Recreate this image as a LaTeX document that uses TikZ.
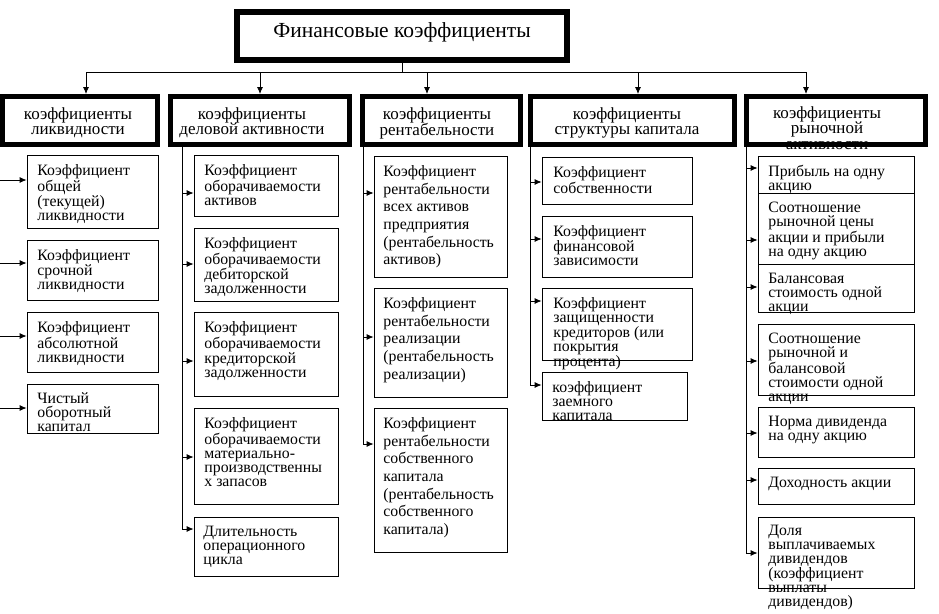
\documentclass[tikz,border=0pt]{standalone}
\usepackage{fontspec}
\setmainfont{Liberation Serif}
\usetikzlibrary{arrows.meta,fit}
\tikzset{
  cell/.style={draw,line width=.8pt,inner sep=0pt},
  head/.style={draw,line width=5pt,inner sep=0pt},
  txt/.style={anchor=north west,inner sep=0pt,align=left,font=\fontsize{15.8}{14}\selectfont},
  txtwide/.style={txt,font=\fontsize{15.8}{17.7}\selectfont},
  htxt/.style={anchor=north,inner sep=0pt,align=center,font=\fontsize{17}{15.5}\selectfont},
}
\begin{document}
\begin{tikzpicture}[x=1pt,y=-1pt,>={Latex[length=7pt,width=6pt]},line width=.8pt]
                \useasboundingbox (0,0) rectangle (939,613);
                \node[draw,line width=6pt,inner sep=0pt,fit={(237,12) (567,60)}] (fin) {};
                \node[inner sep=0pt,anchor=base,font=\fontsize{21.5}{24}\selectfont] (fint) at (402,37) {Финансовые коэффициенты};
                \draw (fin.south) -- (fin.south |- 0,72);
                \draw (86,72) -- (806,72);
                % groups
                \node[head,fit={(2.5,96.5) (157.5,144.5)}] (k1) {};
                \node[head,fit={(170.5,96.5) (349.5,144.5)}] (k2) {};
                \node[head,fit={(362.5,96.5) (520.5,144.5)}] (k3) {};
                \node[head,fit={(530.5,96.5) (734.5,144.5)}] (k4) {};
                \node[head,fit={(746.5,96.5) (925.5,144.5)}] (k5) {};
                \node[htxt] (k1t) at (78,107) {коэффициенты\\ликвидности};
                \node[htxt] (k2t) at (252,107) {коэффициенты\\деловой активности};
                \node[htxt] (k3t) at (437,107) {коэффициенты\\рентабельности};
                \node[htxt] (k4t) at (627,107) {коэффициенты\\структуры капитала};
                \node[htxt] (k5t) at (827,106) {коэффициенты\\рыночной\\активности};
                \draw[->] (86,72) -- (k1.north -| 86,0);
                \draw[->] (260,72) -- (k2.north -| 260,0);
                \draw[->] (427,72) -- (k3.north -| 427,0);
                \draw[->] (638,72) -- (k4.north -| 638,0);
                \draw[->] (806,72) -- (k5.north -| 806,0);
                % liquidity
                \node[cell,fit={(27,155) (158,228)}] (l1) {};
                \node[cell,fit={(27,240) (158,300)}] (l2) {};
                \node[cell,fit={(27,312) (158,372)}] (l3) {};
                \node[cell,fit={(27,384) (158,433)}] (l4) {};
                \node[txt] (l1t) at (37,164) {Коэффициент\\общей\\(текущей)\\ликвидности};
                \node[txt] (l2t) at (37,249) {Коэффициент\\срочной\\ликвидности};
                \node[txt] (l3t) at (37,321) {Коэффициент\\абсолютной\\ликвидности};
                \node[txt] (l4t) at (37,392) {Чистый\\оборотный\\капитал};
                \draw[->] (0,180) -- (l1.west |- 0,180);
                \draw[->] (0,263) -- (l2.west |- 0,263);
                \draw[->] (0,336) -- (l3.west |- 0,336);
                \draw[->] (0,408) -- (l4.west |- 0,408);
                % business activity
                \node[cell,fit={(194,155) (338,216)}] (c1) {};
                \node[cell,fit={(194,228) (338,301)}] (c2) {};
                \node[cell,fit={(194,312) (338,396)}] (c3) {};
                \node[cell,fit={(194,408) (338,504)}] (c4) {};
                \node[cell,fit={(194,517) (338,576)}] (c5) {};
                \node[txt] (c1t) at (204,164) {Коэффициент\\оборачиваемости\\активов};
                \node[txt] (c2t) at (204,237) {Коэффициент\\оборачиваемости\\дебиторской\\задолженности};
                \node[txt] (c3t) at (204,321) {Коэффициент\\оборачиваемости\\кредиторской\\задолженности};
                \node[txt] (c4t) at (204,417) {Коэффициент\\оборачиваемости\\материально-\\производственны\\х запасов};
                \node[txt] (c5t) at (203,526) {Длительность\\операционного\\цикла};
                \draw (k2.south -| 182,0) -- (182,529);
                \draw[->] (182,193) -- (c1.west |- 0,193);
                \draw[->] (182,264) -- (c2.west |- 0,264);
                \draw[->] (182,361) -- (c3.west |- 0,361);
                \draw[->] (182,457) -- (c4.west |- 0,457);
                \draw[->] (182,529) -- (c5.west |- 0,529);
                % profitability
                \node[cell,fit={(374,156) (507,277)}] (d1) {};
                \node[cell,fit={(374,288) (507,397)}] (d2) {};
                \node[cell,fit={(374,408) (507,552)}] (d3) {};
                \node[txtwide] (d1t) at (383,165) {Коэффициент\\рентабельности\\всех активов\\предприятия\\(рентабельность\\активов)};
                \node[txtwide] (d2t) at (383,297) {Коэффициент\\рентабельности\\реализации\\(рентабельность\\реализации)};
                \node[txtwide] (d3t) at (383,417) {Коэффициент\\рентабельности\\собственного\\капитала\\(рентабельность\\собственного\\капитала)};
                \draw (k3.south -| 363,0) -- (363,444);
                \draw[->] (363,193) -- (d1.west |- 0,193);
                \draw[->] (363,337) -- (d2.west |- 0,337);
                \draw[->] (363,444) -- (d3.west |- 0,444);
                % capital structure
                \node[cell,fit={(542,157) (692,204)}] (e1) {};
                \node[cell,fit={(542,216) (692,277)}] (e2) {};
                \node[cell,fit={(542,288) (692,360)}] (e3) {};
                \node[cell,fit={(542,372) (687,420)}] (e4) {};
                \node[txt] (e1t) at (553,166) {Коэффициент\\собственности};
                \node[txt] (e2t) at (553,225) {Коэффициент\\финансовой\\зависимости};
                \node[txt] (e3t) at (553,297) {Коэффициент\\защищенности\\кредиторов (или\\покрытия\\процента)};
                \node[txt] (e4t) at (552,381) {коэффициент\\заемного\\капитала};
                \draw (k4.south -| 530,0) -- (530,385);
                \draw[->] (530,182) -- (e1.west |- 0,182);
                \draw[->] (530,239) -- (e2.west |- 0,239);
                \draw[->] (530,301) -- (e3.west |- 0,301);
                \draw[->] (530,385) -- (e4.west |- 0,385);
                % market activity
                \node[cell,fit={(758,156) (914,193)}] (f1) {};
                \node[cell,fit={(758,193) (914,264)}] (f2) {};
                \node[cell,fit={(758,264) (914,312)}] (f3) {};
                \node[cell,fit={(758,324) (914,395)}] (f4) {};
                \node[cell,fit={(758,407) (914,457)}] (f5) {};
                \node[cell,fit={(758,468) (914,504)}] (f6) {};
                \node[cell,fit={(758,517) (914,588)}] (f7) {};
                \node[txt] (f1t) at (768,165) {Прибыль на одну\\акцию};
                \node[txt] (f2t) at (768,202) {Соотношение\\рыночной цены\\акции и прибыли\\на одну акцию};
                \node[txt] (f3t) at (768,273) {Балансовая\\стоимость одной\\акции};
                \node[txt] (f4t) at (768,333) {Соотношение\\рыночной и\\балансовой\\стоимости одной\\акции};
                \node[txt] (f5t) at (768,416) {Норма дивиденда\\на одну акцию};
                \node[txt] (f6t) at (768,477) {Доходность акции};
                \node[txt] (f7t) at (768,525) {Доля\\выплачиваемых\\дивидендов\\(коэффициент\\выплаты\\дивидендов)};
                \draw (k5.south -| 746,0) -- (746,553);
                \draw[->] (746,168) -- (f1.west |- 0,168);
                \draw[->] (746,240) -- (f2.west |- 0,240);
                \draw[->] (746,287) -- (f3.west |- 0,287);
                \draw[->] (746,361) -- (f4.west |- 0,361);
                \draw[->] (746,433) -- (f5.west |- 0,433);
                \draw[->] (746,480) -- (f6.west |- 0,480);
                \draw[->] (746,553) -- (f7.west |- 0,553);
\end{tikzpicture}
\end{document}
